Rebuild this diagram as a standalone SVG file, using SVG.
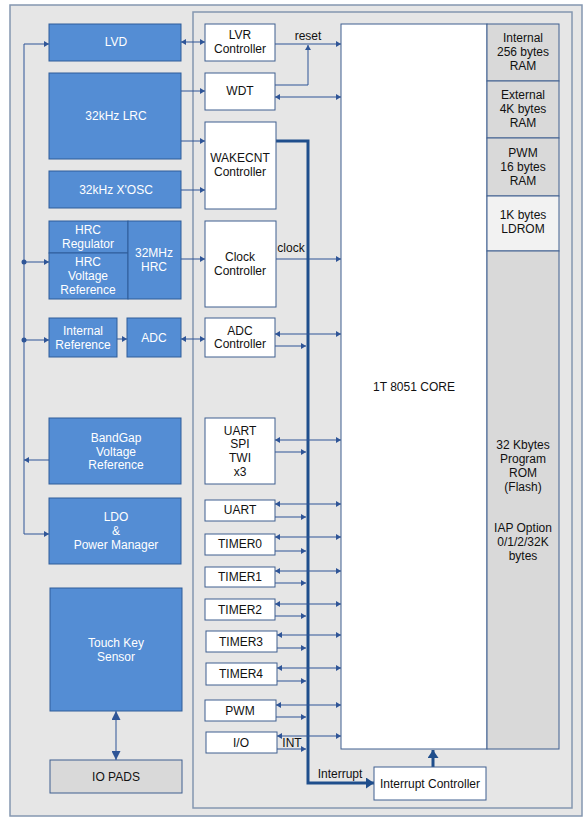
<svg xmlns="http://www.w3.org/2000/svg" width="588" height="823" viewBox="0 0 588 823">
<defs>
<marker id="a" viewBox="0 0 5 6" refX="5" refY="3" markerWidth="5" markerHeight="6" markerUnits="userSpaceOnUse" orient="auto-start-reverse"><path d="M0,0L5,3L0,6z" fill="#2f5597"/></marker>
<marker id="b" viewBox="0 0 8 11" refX="8" refY="5.5" markerWidth="8" markerHeight="11" markerUnits="userSpaceOnUse" orient="auto"><path d="M0,0L8,5.5L0,11z" fill="#1f4e8c"/></marker>
<marker id="c" viewBox="0 0 9 9" refX="9" refY="4.5" markerWidth="9" markerHeight="9" markerUnits="userSpaceOnUse" orient="auto-start-reverse"><path d="M0,0L9,4.5L0,9z" fill="#2f5597"/></marker>
</defs>
<style>
.bg{fill:#e6e6e6;stroke:#8497b0;stroke-width:1.5}
.blue{fill:#548dd4;stroke:#2e5c99;stroke-width:1}
.wh{fill:#fff;stroke:#3f5f8f;stroke-width:1}
.gr{fill:#d9d9d9;stroke:#3f5f8f;stroke-width:1}
.lg{fill:#f2f2f2;stroke:#3f5f8f;stroke-width:1}
text{font-family:"Liberation Sans",Arial,sans-serif;font-size:12px;text-anchor:middle}
.wt{fill:#fff}
.bt{fill:#111}
.ln{fill:none;stroke:#2f5597;stroke-width:1}
.one{marker-end:url(#a)}
.two{marker-start:url(#a);marker-end:url(#a)}
.bus{fill:none;stroke:#1f4e8c;stroke-width:3}
</style>
<rect class="bg" x="10" y="5" width="572" height="811"/>
<rect class="bg" x="193" y="12" width="379" height="796"/>

<g id="connectors">
<path class="ln" d="M24,44V534"/>
<path class="ln one" d="M24,44H49"/>
<path class="ln one" d="M24,262H49"/>
<path class="ln one" d="M24,340H49"/>
<path class="ln one" d="M49,460H24"/>
<path class="ln one" d="M24,534H49"/>
<circle cx="24" cy="262" r="2.5" fill="#2f5597"/>
<circle cx="24" cy="340" r="2.5" fill="#2f5597"/>
<path class="ln two" d="M181,42H205"/>
<path class="ln one" d="M181,91H205"/>
<path class="ln one" d="M181,141H205"/>
<path class="ln one" d="M181,190H205"/>
<path class="ln one" d="M181,259H205"/>
<path class="ln one" d="M117,339H127"/>
<path class="ln two" d="M181,339H205"/>
<path class="ln one" d="M275,44H341"/>
<path class="ln one" d="M275,85H308V45"/>
<path class="ln two" d="M275,97H341"/>
<path class="ln one" d="M275,259H341"/>
<path class="bus" d="M276,141H308V783H374" marker-end="url(#b)"/>
<path class="bus" d="M433,767V750" marker-end="url(#b)"/>
<path class="ln two" d="M275,334H341"/>
<path class="ln one" d="M275,346H306"/>
<path class="ln two" d="M275,440H341"/>
<path class="ln one" d="M275,452H306"/>
<path class="ln two" d="M275,504H341"/>
<path class="ln one" d="M275,517H306"/>
<path class="ln two" d="M275,537H341"/>
<path class="ln one" d="M275,551H306"/>
<path class="ln two" d="M275,571H341"/>
<path class="ln one" d="M275,583H306"/>
<path class="ln two" d="M275,604H341"/>
<path class="ln one" d="M275,616H306"/>
<path class="ln two" d="M277,635H341"/>
<path class="ln one" d="M277,648H306"/>
<path class="ln two" d="M277,668H341"/>
<path class="ln one" d="M277,681H306"/>
<path class="ln two" d="M276,705H341"/>
<path class="ln one" d="M276,717H306"/>
<path class="ln two" d="M277,736H341"/>
<path class="ln one" d="M277,749H306"/>
<path class="ln" d="M116,711V760" style="marker-start:url(#c);marker-end:url(#c)"/>
<text class="bt" x="308" y="40">reset</text>
<text class="bt" x="291" y="252">clock</text>
<text class="bt" x="292" y="747">INT</text>
<text class="bt" x="340" y="778">Interrupt</text>
</g>

<g id="lvd"><rect class="blue" x="49" y="24" width="132" height="37"/><text class="wt" x="116" y="46">LVD</text></g>
<g id="lrc"><rect class="blue" x="49" y="73" width="132" height="86"/><text class="wt" x="116" y="120">32kHz LRC</text></g>
<g id="xosc"><rect class="blue" x="49" y="171" width="132" height="37"/><text class="wt" x="116" y="194">32kHz X'OSC</text></g>
<g id="hrc-reg"><rect class="blue" x="49" y="221" width="79" height="32"/><text class="wt" x="88" y="234">HRC</text><text class="wt" x="88" y="248">Regulator</text></g>
<g id="hrc-vref"><rect class="blue" x="49" y="253" width="79" height="46"/><text class="wt" x="88" y="266">HRC</text><text class="wt" x="88" y="280">Voltage</text><text class="wt" x="88" y="294">Reference</text></g>
<g id="hrc32"><rect class="blue" x="128" y="221" width="53" height="78"/><text class="wt" x="154" y="257">32MHz</text><text class="wt" x="154" y="271">HRC</text></g>
<g id="intref"><rect class="blue" x="49" y="318" width="68" height="39"/><text class="wt" x="83" y="335">Internal</text><text class="wt" x="83" y="349">Reference</text></g>
<g id="adc"><rect class="blue" x="127" y="318" width="54" height="39"/><text class="wt" x="154" y="342">ADC</text></g>
<g id="bandgap"><rect class="blue" x="49" y="418" width="132" height="66"/><text class="wt" x="116" y="442">BandGap</text><text class="wt" x="116" y="456">Voltage</text><text class="wt" x="116" y="469">Reference</text></g>
<g id="ldo"><rect class="blue" x="49" y="498" width="132" height="66"/><text class="wt" x="116" y="521">LDO</text><text class="wt" x="116" y="535">&amp;</text><text class="wt" x="116" y="549">Power Manager</text></g>
<g id="touch"><rect class="blue" x="50" y="588" width="132" height="123"/><text class="wt" x="116" y="647">Touch Key</text><text class="wt" x="116" y="661">Sensor</text></g>
<g id="iopads"><rect class="gr" x="50" y="760" width="132" height="33"/><text class="bt" x="116" y="781">IO PADS</text></g>

<g id="lvr"><rect class="wh" x="205" y="24" width="70" height="37"/><text class="bt" x="240" y="39">LVR</text><text class="bt" x="240" y="53">Controller</text></g>
<g id="wdt"><rect class="wh" x="205" y="73" width="70" height="37"/><text class="bt" x="240" y="95">WDT</text></g>
<g id="wakecnt"><rect class="wh" x="205" y="122" width="71" height="87"/><text class="bt" x="240" y="162">WAKECNT</text><text class="bt" x="240" y="176">Controller</text></g>
<g id="clockctl"><rect class="wh" x="205" y="221" width="71" height="86"/><text class="bt" x="240" y="261">Clock</text><text class="bt" x="240" y="275">Controller</text></g>
<g id="adcctl"><rect class="wh" x="205" y="318" width="70" height="39"/><text class="bt" x="240" y="335">ADC</text><text class="bt" x="240" y="348">Controller</text></g>
<g id="uartspi"><rect class="wh" x="205" y="418" width="70" height="66"/><text class="bt" x="240" y="435">UART</text><text class="bt" x="240" y="448">SPI</text><text class="bt" x="240" y="462">TWI</text><text class="bt" x="240" y="476">x3</text></g>
<g id="uart"><rect class="wh" x="205" y="500" width="70" height="21"/><text class="bt" x="240" y="514">UART</text></g>
<g id="timer0"><rect class="wh" x="205" y="534" width="70" height="21"/><text class="bt" x="240" y="548">TIMER0</text></g>
<g id="timer1"><rect class="wh" x="205" y="567" width="70" height="20"/><text class="bt" x="240" y="581">TIMER1</text></g>
<g id="timer2"><rect class="wh" x="205" y="599" width="70" height="21"/><text class="bt" x="240" y="614">TIMER2</text></g>
<g id="timer3"><rect class="wh" x="206" y="631" width="71" height="21"/><text class="bt" x="241" y="646">TIMER3</text></g>
<g id="timer4"><rect class="wh" x="206" y="663" width="71" height="22"/><text class="bt" x="241" y="678">TIMER4</text></g>
<g id="pwm"><rect class="wh" x="205" y="700" width="71" height="21"/><text class="bt" x="240" y="715">PWM</text></g>
<g id="io"><rect class="wh" x="206" y="732" width="71" height="21"/><text class="bt" x="241" y="747">I/O</text></g>

<g id="core"><rect class="wh" x="341" y="24" width="146" height="725"/><text class="bt" x="414" y="391">1T 8051 CORE</text></g>
<g id="iram"><rect class="gr" x="487" y="24" width="72" height="57"/><text class="bt" x="523" y="42">Internal</text><text class="bt" x="523" y="56">256 bytes</text><text class="bt" x="523" y="70">RAM</text></g>
<g id="xram"><rect class="gr" x="487" y="81" width="72" height="57"/><text class="bt" x="523" y="99">External</text><text class="bt" x="523" y="113">4K  bytes</text><text class="bt" x="523" y="127">RAM</text></g>
<g id="pwmram"><rect class="gr" x="487" y="138" width="72" height="58"/><text class="bt" x="523" y="157">PWM</text><text class="bt" x="523" y="171">16 bytes</text><text class="bt" x="523" y="185">RAM</text></g>
<g id="ldrom"><rect class="lg" x="487" y="196" width="72" height="55"/><text class="bt" x="523" y="219">1K  bytes</text><text class="bt" x="523" y="233">LDROM</text></g>
<g id="rom"><rect class="gr" x="487" y="251" width="72" height="498"/><text class="bt" x="523" y="449">32 Kbytes</text><text class="bt" x="523" y="463">Program</text><text class="bt" x="523" y="477">ROM</text><text class="bt" x="523" y="491">(Flash)</text><text class="bt" x="523" y="532">IAP Option</text><text class="bt" x="523" y="546">0/1/2/32K</text><text class="bt" x="523" y="560">bytes</text></g>
<g id="intctl"><rect class="wh" x="374" y="767" width="112" height="33"/><text class="bt" x="430" y="788">Interrupt Controller</text></g>
</svg>
